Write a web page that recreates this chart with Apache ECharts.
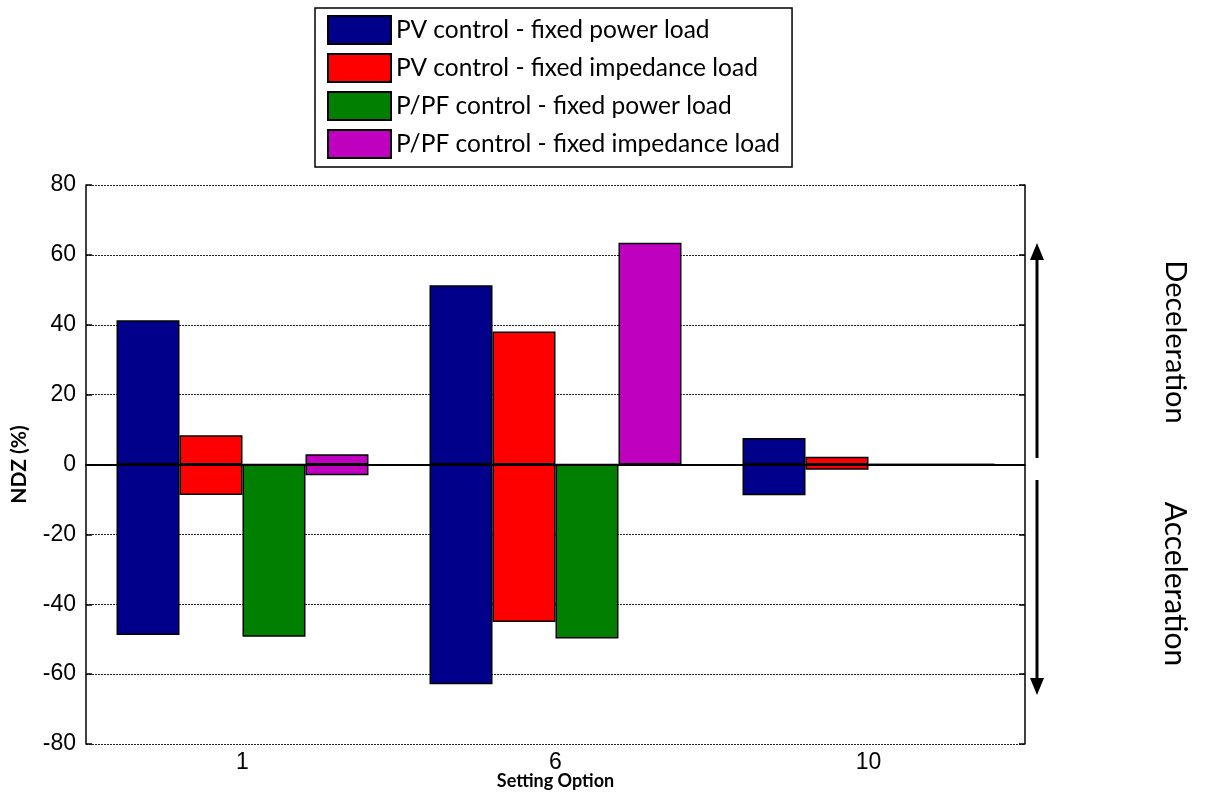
<!DOCTYPE html>
<html>
<head>
<meta charset="utf-8">
<script src="https://cdn.jsdelivr.net/npm/echarts@6/dist/echarts.min.js"></script>
<style>html,body{margin:0;padding:0;background:#fff}#c{width:1206px;height:810px}</style>
</head>
<body>
<div id="c"></div>
<script>
var categories = ['1', '6', '10'];
var seriesNames = ['PV control - fixed power load', 'PV control - fixed impedance load', 'P/PF control - fixed power load', 'P/PF control - fixed impedance load'];
var colors = ['#00008b', '#ff0000', '#007f00', '#bf00bf'];
// upper (deceleration) and lower (acceleration) limits per series
var pvPowerUp = [41.3, 51.3, 7.6];
var pvPowerDown = [-48.8, -62.9, -8.8];
var pvImpUp = [8.4, 38.1, 2.2];
var pvImpDown = [-8.7, -45.1, -1.5];
var pfPowerUp = [0, 0, 0];
var pfPowerDown = [-49.3, -49.8, 0];
var pfImpUp = [2.9, 63.5, 0];
var pfImpDown = [-3.1, -0.4, 0];
var yTicks = {min: -80, max: 80, interval: 20};

var ups = [pvPowerUp, pvImpUp, pfPowerUp, pfImpUp];
var downs = [pvPowerDown, pvImpDown, pfPowerDown, pfImpDown];
var series = [];
for (var i = 0; i < 4; i++) {
  [ups[i], downs[i]].forEach(function (d, k) {
    series.push({
      name: seriesNames[i],
      type: 'bar',
      stack: 's' + i,
      data: d,
      barGap: '0%',
      barCategoryGap: '19.5%',
      itemStyle: {color: colors[i], borderColor: '#000', borderWidth: 1.5},
      emphasis: {disabled: true},
      silent: true,
      markLine: (i === 0 && k === 0) ? {
        silent: true, symbol: 'none', label: {show: false},
        lineStyle: {color: '#000', type: 'solid', width: 1.5},
        data: [{yAxis: 0}]
      } : undefined
    });
  });
}

var chart = echarts.init(document.getElementById('c'));
chart.setOption({
  animation: false,
  backgroundColor: '#fff',
  grid: {left: 86, right: 181, top: 185, bottom: 66},
  legend: {
    data: seriesNames,
    orient: 'vertical',
    left: 315, top: 8,
    icon: 'rect',
    itemWidth: 63, itemHeight: 28, itemGap: 8,
    padding: [7, 12, 8, 12],
    borderColor: '#000', borderWidth: 1.5,
    backgroundColor: '#fff',
    selectedMode: false,
    textStyle: {fontFamily: 'Lato', fontSize: 24.5, lineHeight: 28, color: '#000'}
  },
  xAxis: [{
    type: 'category', data: categories, position: 'bottom',
    axisLine: {lineStyle: {color: '#000', width: 1.5}},
    axisTick: {inside: true, alignWithLabel: true, length: 6, lineStyle: {color: '#000', width: 1.5}},
    axisLabel: {color: '#000', fontFamily: 'Liberation Sans', fontSize: 23, margin: 7},
    name: 'Setting Option', nameLocation: 'middle', nameGap: 28, nameMoveOverlap: false,
    nameTextStyle: {color: '#000', fontFamily: 'Lato', fontWeight: 'bold', fontSize: 18}
  }, {
    type: 'category', data: categories, position: 'top',
    axisLine: {lineStyle: {color: '#000', width: 1.5}},
    axisTick: {inside: true, alignWithLabel: true, length: 6, lineStyle: {color: '#000', width: 1.5}},
    axisLabel: {show: false}
  }],
  yAxis: [{
    type: 'value', min: yTicks.min, max: yTicks.max, interval: yTicks.interval,
    axisLine: {show: true, lineStyle: {color: '#000', width: 1.5}},
    axisTick: {show: true, inside: true, length: 6, lineStyle: {color: '#000', width: 1.5}},
    axisLabel: {color: '#000', fontFamily: 'Liberation Sans', fontSize: 23, margin: 10},
    splitLine: {show: true, lineStyle: {color: '#222', type: [2, 1], width: 1}},
    name: 'NDZ (%)', nameLocation: 'middle', nameGap: 56, nameMoveOverlap: false,
    nameTextStyle: {color: '#000', fontFamily: 'Lato', fontWeight: 'bold', fontSize: 21}
  }, {
    type: 'value', min: yTicks.min, max: yTicks.max, interval: yTicks.interval, position: 'right',
    axisLine: {show: true, lineStyle: {color: '#000', width: 1.5}},
    axisTick: {show: true, inside: true, length: 6, lineStyle: {color: '#000', width: 1.5}},
    axisLabel: {show: false},
    splitLine: {show: false}
  }],
  series: series,
  graphic: [
    {type: 'line', shape: {x1: 1037, y1: 256, x2: 1037, y2: 458}, style: {stroke: '#000', lineWidth: 3}},
    {type: 'polygon', shape: {points: [[1037, 243], [1030, 260], [1044, 260]]}, style: {fill: '#000'}},
    {type: 'line', shape: {x1: 1037, y1: 480, x2: 1037, y2: 682}, style: {stroke: '#000', lineWidth: 3}},
    {type: 'polygon', shape: {points: [[1037, 695], [1030, 678], [1044, 678]]}, style: {fill: '#000'}},
    {type: 'text', x: 1175, y: 342, rotation: -Math.PI / 2,
      style: {text: 'Deceleration', fontFamily: 'Lato', fontSize: 29, fill: '#000', align: 'center', verticalAlign: 'middle'}},
    {type: 'text', x: 1175, y: 584, rotation: -Math.PI / 2,
      style: {text: 'Acceleration', fontFamily: 'Lato', fontSize: 30, fill: '#000', align: 'center', verticalAlign: 'middle'}}
  ]
});
</script>
</body>
</html>
